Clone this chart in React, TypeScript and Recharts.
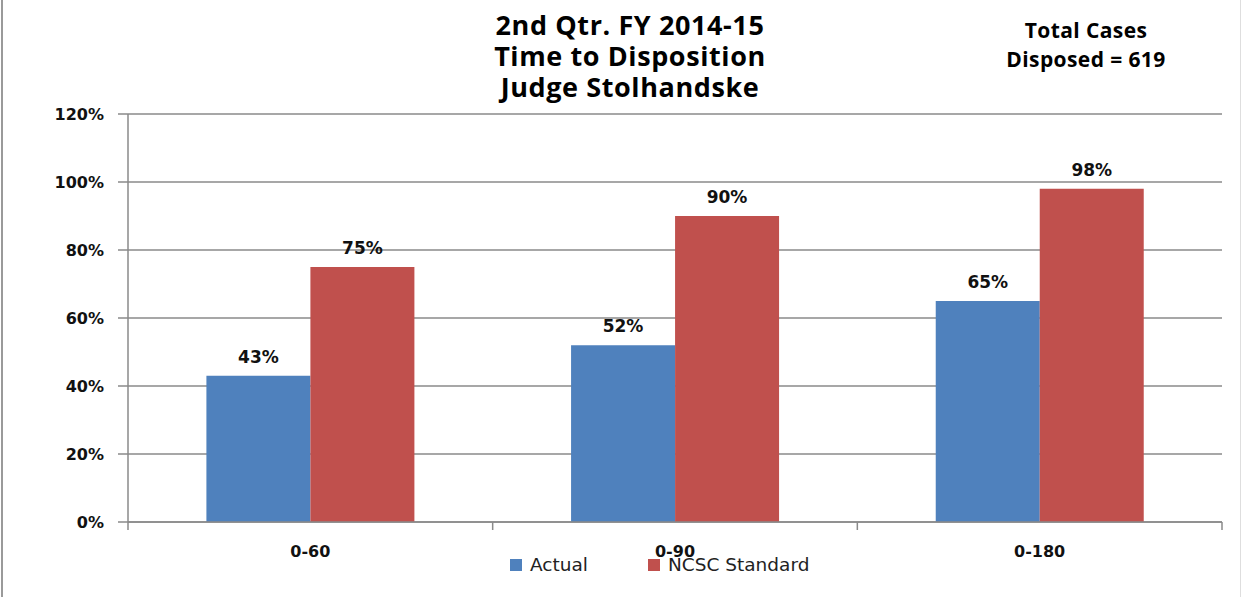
import React from "react";
import {
  BarChart,
  Bar,
  XAxis,
  YAxis,
  CartesianGrid,
  LabelList,
} from "recharts";

const categories: string[] = ["0-60", "0-90", "0-180"];
const actual: number[] = [43, 52, 65];
const ncscStandard: number[] = [75, 90, 98];
const yTicks: number[] = [0, 20, 40, 60, 80, 100, 120];
const titleLines: string[] = ["2nd Qtr. FY 2014-15", "Time to Disposition", "Judge Stolhandske"];
const noteLines: string[] = ["Total Cases", "Disposed = 619"];

const series = [
  { key: "actual", name: "Actual", color: "#4F81BD" },
  { key: "ncsc", name: "NCSC Standard", color: "#C0504D" },
];

const data = categories.map((c, i) => ({
  name: c,
  actual: actual[i],
  ncsc: ncscStandard[i],
}));

const W = 1247;
const H = 597;
const X_AXIS_H = 30;
const margin = { top: 114, right: 25, bottom: 75 - X_AXIS_H, left: 0 };
const Y_AXIS_W = 128;
const halfBand = (W - margin.left - margin.right - Y_AXIS_W) / categories.length / 2;

const AXIS_FONT = "'DejaVu Sans', Verdana, sans-serif";
const TITLE_FONT = "'Open Sans', Calibri, sans-serif";
const GRID = "#8a8a8a";

const XTick = (props: any) => {
  const { x, y, payload, index } = props;
  const half = payload && payload.offset ? payload.offset : halfBand;
  return (
    <g>
      <line x1={x - half} x2={x - half} y1={y} y2={y + 8} stroke={GRID} strokeWidth={1.5} />
      {index === categories.length - 1 && (
        <line x1={x + half} x2={x + half} y1={y} y2={y + 8} stroke={GRID} strokeWidth={1.5} />
      )}
      <text
        x={x}
        y={y + 35}
        textAnchor="middle"
        fontFamily={AXIS_FONT}
        fontWeight="bold"
        fontSize={16}
        fill="#111"
      >
        {payload.value}
      </text>
    </g>
  );
};

// legend drawn as an overlay so it doesn't shrink the plot area
const CustomLegend = () => (
  <div
    style={{
      position: "absolute",
      left: 510,
      top: 554,
      display: "flex",
      alignItems: "center",
      fontFamily: AXIS_FONT,
      fontSize: 18.5,
      color: "#222",
      whiteSpace: "nowrap",
    }}
  >
    {series.map((s, i) => (
      <div key={s.key} style={{ display: "flex", alignItems: "center", marginRight: i === 0 ? 60 : 0 }}>
        <span style={{ display: "inline-block", width: 12, height: 12, background: s.color, marginRight: 8 }} />
        <span>{s.name}</span>
      </div>
    ))}
  </div>
);

const App = () => {
  return (
    <div style={{ position: "absolute", left: 0, top: 0, width: W, height: H, background: "#fff" }}>
      <div style={{ position: "absolute", left: 1, top: 0, width: 2, height: H, background: "#9a9a9a" }} />
      <div style={{ position: "absolute", left: 1240, top: 0, width: 1, height: H, background: "#dedede" }} />
      <BarChart
        width={W}
        height={H}
        data={data}
        margin={margin}
        barCategoryGap="21.5%"
        barGap={0}
      >
        <CartesianGrid vertical={false} stroke={GRID} strokeWidth={1.5} />
        <XAxis
          dataKey="name"
          height={X_AXIS_H}
          tickLine={false}
          tickSize={0}
          tickMargin={0}
          axisLine={{ stroke: GRID, strokeWidth: 1.5 }}
          tick={<XTick />}
          interval={0}
        />
        <YAxis
          width={Y_AXIS_W}
          domain={[0, 120]}
          ticks={yTicks}
          interval={0}
          tickSize={10}
          tickMargin={14}
          tickFormatter={(v: number) => `${v}%`}
          axisLine={{ stroke: GRID, strokeWidth: 1.5 }}
          tickLine={{ stroke: GRID, strokeWidth: 1.5 }}
          tick={{ fontFamily: AXIS_FONT, fontWeight: "bold", fontSize: 16, fill: "#111" }}
        />
        {series.map((s) => (
          <Bar key={s.key} dataKey={s.key} name={s.name} fill={s.color} isAnimationActive={false}>
            <LabelList
              dataKey={s.key}
              position="top"
              offset={13}
              formatter={(v: any) => `${v}%`}
              style={{ fontFamily: AXIS_FONT, fontWeight: "bold", fontSize: 17, fill: "#111" }}
            />
          </Bar>
        ))}
        {titleLines.map((t, i) => (
          <text
            key={i}
            x={630}
            y={35 + i * 31}
            textAnchor="middle"
            fontFamily={TITLE_FONT}
            fontWeight="bold"
            fontSize={27}
            letterSpacing={0.6}
            fill="#000"
          >
            {t}
          </text>
        ))}
        {noteLines.map((t, i) => (
          <text
            key={i}
            x={1086}
            y={38 + i * 29}
            textAnchor="middle"
            fontFamily={TITLE_FONT}
            fontWeight="bold"
            fontSize={21}
            letterSpacing={0.4}
            fill="#000"
          >
            {t}
          </text>
        ))}
      </BarChart>
      <CustomLegend />
    </div>
  );
};

export default App;
